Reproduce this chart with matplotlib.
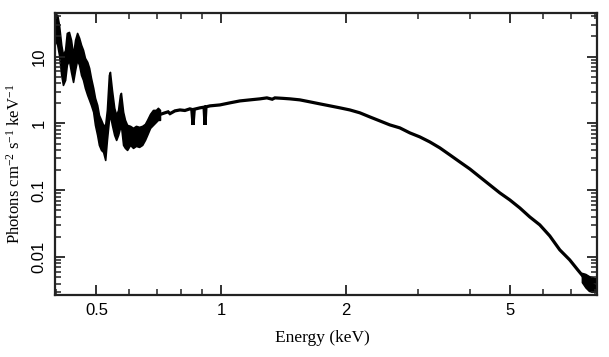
import matplotlib
matplotlib.use("Agg")
import matplotlib.pyplot as plt
import numpy as np

# low energy part: noisy band (energy keV, lower / upper flux)
band_e = [0.397, 0.402, 0.406, 0.411, 0.415, 0.420, 0.424, 0.429, 0.434, 0.439,
          0.444, 0.449, 0.454, 0.459, 0.464, 0.469, 0.475, 0.480, 0.485, 0.491,
          0.496, 0.502, 0.507, 0.513, 0.519, 0.525, 0.530, 0.536, 0.539, 0.545,
          0.552, 0.558, 0.564, 0.570, 0.573, 0.580, 0.586, 0.593, 0.603, 0.613,
          0.623, 0.634, 0.645, 0.655, 0.663, 0.674, 0.685, 0.696, 0.704, 0.712]
band_hi = [43.6, 42.1, 29.8, 15.0, 10.6, 12.6, 22.6, 23.4, 17.8, 10.6,
           17.8, 22.6, 19.1, 15.0, 12.6, 9.56, 8.33, 6.78, 4.80, 3.40,
           2.41, 1.89, 1.34, 1.13, 0.950, 0.950, 1.59, 5.32, 5.90, 3.17,
           1.71, 1.34, 1.59, 2.67, 2.86, 1.49, 1.13, 0.950, 0.918, 0.857,
           0.918, 0.887, 0.918, 0.983, 1.13, 1.39, 1.59, 1.59, 1.71, 1.59]
band_lo = [17.8, 15.0, 10.6, 5.32, 3.77, 4.48, 7.52, 8.92, 5.90, 4.18,
           6.32, 8.92, 7.52, 5.32, 4.48, 3.40, 2.67, 2.25, 1.89, 1.49,
           0.950, 0.673, 0.477, 0.401, 0.374, 0.284, 0.566, 1.13, 1.34, 0.950,
           0.673, 0.566, 0.673, 0.857, 0.950, 0.477, 0.430, 0.401, 0.477, 0.430,
           0.461, 0.445, 0.477, 0.566, 0.673, 0.857, 0.950, 1.05, 1.13, 1.13]

# continuum part above ~0.7 keV
line_e = [0.712, 0.732, 0.745, 0.753, 0.774, 0.796, 0.818, 0.841, 0.850, 0.856,
          0.862, 0.890, 0.910, 0.915, 0.920, 0.941, 0.994, 1.051, 1.111, 1.175,
          1.242, 1.291, 1.330, 1.350, 1.412, 1.468, 1.551, 1.641, 1.734, 1.834,
          1.938, 2.049, 2.166, 2.290, 2.421, 2.559, 2.706, 2.861, 3.024, 3.197,
          3.381, 3.574, 3.778, 3.995, 4.223, 4.465, 4.720, 4.990, 5.276, 5.577,
          5.896, 6.233, 6.590, 6.966, 7.283, 7.573, 7.786, 8.006]
line_f = [1.36, 1.44, 1.49, 1.40, 1.54, 1.59, 1.56, 1.65, 1.62, 0.95,
          1.63, 1.71, 1.75, 0.95, 1.77, 1.83, 1.89, 2.03, 2.17, 2.25,
          2.33, 2.41, 2.30, 2.41, 2.37, 2.33, 2.25, 2.10, 1.96, 1.83,
          1.71, 1.59, 1.44, 1.25, 1.09, 0.950, 0.857, 0.721, 0.628, 0.528,
          0.430, 0.338, 0.265, 0.208, 0.158, 0.120, 0.0912, 0.0716, 0.0543, 0.0398,
          0.0303, 0.0207, 0.0128, 0.00905, 0.00642, 0.00479, 0.00417, 0.00363]

# noisy tail at the high energy end
tail_e = [7.45, 7.60, 7.75, 7.90, 8.05]
tail_lo = [0.0042, 0.0035, 0.0031, 0.0030, 0.0031]
tail_hi = [0.0058, 0.0056, 0.0052, 0.0050, 0.0048]

xticks = [0.5, 1, 2, 5]
xticklabels = ['0.5', '1', '2', '5']
yticks = [0.01, 0.1, 1, 10]
yticklabels = ['0.01', '0.1', '1', '10']

plt.rcParams['mathtext.fontset'] = 'custom'
plt.rcParams['mathtext.rm'] = 'Liberation Serif'
plt.rcParams['mathtext.it'] = 'Liberation Serif:italic'

fig = plt.figure(figsize=(6.09, 3.57), dpi=100)
ax = fig.add_axes([0.0903, 0.1737, 0.8897, 0.79])

ax.fill_between(band_e, band_lo, band_hi, color='black', lw=1.2, edgecolor='black')
ax.plot(line_e, line_f, color='black', lw=2.3, solid_joinstyle='miter')
ax.fill_between(tail_e, tail_lo, tail_hi, color='black', lw=1.0, edgecolor='black')

ax.set_xscale('log')
ax.set_yscale('log')
ax.set_xlim(0.397, 8.1)
ax.set_ylim(0.0027, 45)

ax.xaxis.set_major_locator(matplotlib.ticker.FixedLocator(xticks))
ax.xaxis.set_major_formatter(matplotlib.ticker.FixedFormatter(xticklabels))
ax.xaxis.set_minor_locator(matplotlib.ticker.FixedLocator([0.4, 0.6, 0.7, 0.8, 0.9, 3, 4, 6, 7, 8]))
ax.xaxis.set_minor_formatter(matplotlib.ticker.NullFormatter())
ax.yaxis.set_major_locator(matplotlib.ticker.FixedLocator(yticks))
ax.yaxis.set_major_formatter(matplotlib.ticker.FixedFormatter(yticklabels))
ax.yaxis.set_minor_locator(matplotlib.ticker.LogLocator(base=10, subs=np.arange(2, 10)))
ax.yaxis.set_minor_formatter(matplotlib.ticker.NullFormatter())

ax.tick_params(which='both', direction='in', top=True, right=True, colors='#222222')
ax.tick_params(which='major', length=7, width=1.3, labelsize=12, pad=6, labelcolor='black')
ax.tick_params(which='minor', length=4, width=1.1)
for lab in ax.get_xticklabels() + ax.get_yticklabels():
    lab.set_family('Liberation Sans')
for lab in ax.get_yticklabels():
    lab.set_rotation(90)
    lab.set_va('center')
for sp in ax.spines.values():
    sp.set_linewidth(1.6)
    sp.set_color('#222222')

ax.set_xlabel('Energy (keV)', family='Liberation Serif', fontsize=12.5)
ax.set_ylabel(r'Photons cm$^{-2}$ s$^{-1}$ keV$^{-1}$', family='Liberation Serif', fontsize=12)
ax.xaxis.set_label_coords(0.494, -0.125)
ax.yaxis.set_label_coords(-0.058, 0.465)

fig.savefig('out.png', dpi=100)
